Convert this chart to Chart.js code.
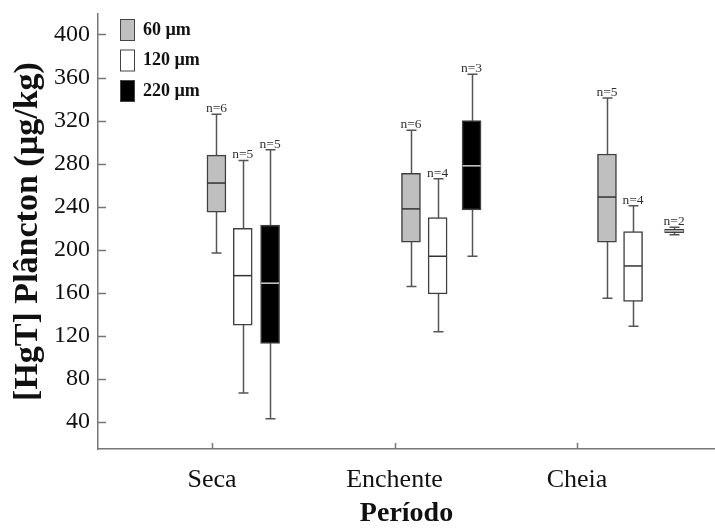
<!DOCTYPE html>
<html>
<head>
<meta charset="utf-8">
<script src="https://cdn.jsdelivr.net/npm/chart.js@4.4.1/dist/chart.umd.min.js"></script>
<style>
  html, body { margin: 0; padding: 0; background: #fff; }
  canvas { display: block; }
</style>
</head>
<body>
<canvas id="chart" width="715" height="531"></canvas>
<script>
// ---------- Data ----------
const categories = ['Seca', 'Enchente', 'Cheia'];
const yTicks = [40, 80, 120, 160, 200, 240, 280, 320, 360, 400];

// x position of each box (1 = Seca, 2 = Enchente, 3 = Cheia)
const x60  = [1.024, 2.090, 3.164];
const x120 = [1.168, 2.236, 3.307];
const x220 = [1.318, 2.422, 3.532];

const min60 = [197, 166, 155], q1_60 = [235, 207, 207], med60 = [262, 238, 249], q3_60 = [288, 271, 289], max60 = [326, 311, 341];
const min120 = [67, 124, 129], q1_120 = [130, 159, 152], med120 = [176, 194, 185], q3_120 = [220, 230, 217], max120 = [283, 266, 241];
const min220 = [43, 194, 214], q1_220 = [113, 237, 216], med220 = [169, 278, 217.5], q3_220 = [223, 320, 219], max220 = [293, 363, 221];
const n60 = [6, 6, 5], n120 = [5, 4, 4], n220 = [5, 3, 2];

const serif = '"Liberation Serif", "Times New Roman", serif';
const axisColor = '#777';

const series = [
  { label: '60 µm',  xs: x60,  mins: min60,  q1: q1_60,  med: med60,  q3: q3_60,  maxs: max60,  n: n60,  fill: '#bfbfbf', medColor: '#333' },
  { label: '120 µm', xs: x120, mins: min120, q1: q1_120, med: med120, q3: q3_120, maxs: max120, n: n120, fill: '#ffffff', medColor: '#333' },
  { label: '220 µm', xs: x220, mins: min220, q1: q1_220, med: med220, q3: q3_220, maxs: max220, n: n220, fill: '#000000', medColor: '#cfcfcf' },
];

// ---------- Box plot plugin ----------
const boxPlot = {
  id: 'boxPlot',
  beforeDatasetsDraw(chart) {
    const { ctx, scales: { x, y } } = chart;
    ctx.save();
    ctx.strokeStyle = '#555';
    ctx.lineWidth = 1.5;
    series.forEach(s => {
      s.xs.forEach((xv, i) => {
        const px = Math.round(x.getPixelForValue(xv)) + 0.5;
        const top = y.getPixelForValue(s.maxs[i]);
        const bot = y.getPixelForValue(s.mins[i]);
        ctx.beginPath();
        ctx.moveTo(px, top); ctx.lineTo(px, bot);
        ctx.moveTo(px - 5, top); ctx.lineTo(px + 5, top);
        ctx.moveTo(px - 5, bot); ctx.lineTo(px + 5, bot);
        ctx.stroke();
      });
    });
    ctx.restore();
  },
  afterDatasetsDraw(chart) {
    const { ctx, chartArea, scales: { x, y } } = chart;
    ctx.save();
    // medians + n labels
    series.forEach(s => {
      s.xs.forEach((xv, i) => {
        const px = x.getPixelForValue(xv);
        const my = y.getPixelForValue(s.med[i]);
        ctx.strokeStyle = s.medColor;
        ctx.lineWidth = 1.5;
        ctx.beginPath();
        ctx.moveTo(px - 9, my); ctx.lineTo(px + 9, my);
        ctx.stroke();

        ctx.fillStyle = '#333';
        ctx.font = `13.5px ${serif}`;
        ctx.textAlign = 'center';
        ctx.textBaseline = 'alphabetic';
        ctx.fillText('n=' + s.n[i], px, y.getPixelForValue(s.maxs[i]) - 2);
      });
    });

    // inward tick marks
    ctx.strokeStyle = axisColor;
    ctx.lineWidth = 1.5;
    ctx.beginPath();
    yTicks.forEach(v => {
      const py = Math.round(y.getPixelForValue(v)) + 0.5;
      ctx.moveTo(chartArea.left, py); ctx.lineTo(chartArea.left + 8, py);
    });
    categories.forEach((c, i) => {
      const px = Math.round(x.getPixelForValue(i + 1)) + 0.5;
      ctx.moveTo(px, chartArea.bottom); ctx.lineTo(px, chartArea.bottom - 6);
    });
    ctx.stroke();

    // legend
    series.forEach((s, i) => {
      const ly = 19 + i * 30.5;
      ctx.fillStyle = s.fill;
      ctx.fillRect(120, ly, 14, 21);
      ctx.strokeStyle = '#444';
      ctx.lineWidth = 1;
      ctx.strokeRect(120.5, ly + 0.5, 14, 21);
      ctx.fillStyle = '#111';
      ctx.font = `bold 18px ${serif}`;
      ctx.textAlign = 'left';
      ctx.textBaseline = 'middle';
      ctx.fillText(s.label, 143, ly + 11);
    });
    ctx.restore();
  }
};

// ---------- Chart ----------
const datasets = series.map(s => ({
  label: s.label,
  data: s.xs.map((xv, i) => ({ x: xv, y: [s.q1[i], s.q3[i]] })),
  backgroundColor: s.fill,
  borderColor: '#404040',
  borderWidth: 1.5,
  borderSkipped: false,
  barThickness: 19,
  grouped: false
}));

new Chart(document.getElementById('chart').getContext('2d'), {
  type: 'bar',
  data: { datasets },
  options: {
    responsive: false,
    animation: false,
    layout: { padding: { top: 14, left: 0, right: 0, bottom: 0 } },
    plugins: { legend: { display: false }, tooltip: { enabled: false } },
    scales: {
      x: {
        type: 'linear',
        offset: false,
        min: 0.375,
        max: 3.756,
        afterBuildTicks: s => { s.ticks = categories.map((c, i) => ({ value: i + 1 })); },
        afterFit: s => { s.height = 82; s.paddingLeft = 0; s.paddingRight = 0; },
        grid: { display: false, drawTicks: false },
        border: { display: true, color: axisColor, width: 1.5 },
        ticks: {
          padding: 16,
          color: '#111',
          font: { family: serif, size: 26 },
          callback: v => categories[Math.round(v) - 1] || ''
        },
        title: {
          display: true,
          text: 'Período',
          color: '#111',
          font: { family: serif, size: 28, weight: 'bold' },
          padding: { top: 0, bottom: 0 }
        }
      },
      y: {
        min: 15,
        max: 419,
        afterBuildTicks: s => { s.ticks = yTicks.map(v => ({ value: v })); },
        afterFit: s => { s.width = 98; s.paddingTop = 0; s.paddingBottom = 0; },
        grid: { display: false, drawTicks: false },
        border: { display: true, color: axisColor, width: 1.5 },
        ticks: {
          padding: 8,
          color: '#111',
          font: { family: serif, size: 24 }
        },
        title: {
          display: true,
          text: '[HgT] Plâncton (µg/kg)',
          color: '#111',
          font: { family: serif, size: 34, weight: 'bold' },
          padding: { top: 8, bottom: 0 }
        }
      }
    }
  },
  plugins: [boxPlot]
});
</script>
</body>
</html>
